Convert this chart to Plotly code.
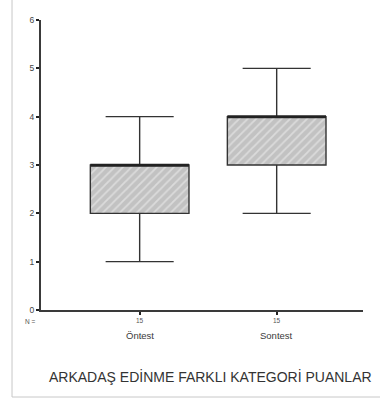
import plotly.graph_objects as go

# Box-plot summary statistics per test
categories = ["Öntest", "Sontest"]
n_counts = [15, 15]
q1 = [2, 3]
median = [3, 4]
q3 = [3, 4]
lower_whisker = [1, 2]
upper_whisker = [4, 5]

y_ticks = [0, 1, 2, 3, 4, 5, 6]
title_text = "ARKADAŞ EDİNME FARKLI KATEGORİ PUANLAR"

FONT = "Liberation Sans, Arial, sans-serif"
BOX_W = 0.72

fig = go.Figure()

# Hatched box bodies (Q1..Q3)
fig.add_trace(go.Bar(
    x=categories,
    y=[b - a for a, b in zip(q1, q3)],
    base=q1,
    width=BOX_W,
    marker=dict(
        color="#c2c2c2",
        line=dict(width=0),
        pattern=dict(shape="/", size=6, solidity=0.3,
                     bgcolor="#c2c2c2", fgcolor="#f4f4f4"),
    ),
    hoverinfo="skip",
    showlegend=False,
))

# Box outlines, whiskers and caps
fig.add_trace(go.Box(
    x=categories,
    q1=q1,
    median=median,
    q3=q3,
    lowerfence=lower_whisker,
    upperfence=upper_whisker,
    width=BOX_W,
    whiskerwidth=0.69,
    fillcolor="rgba(0,0,0,0)",
    line=dict(color="#333333", width=1.4),
    boxpoints=False,
    showlegend=False,
))

# Heavier median line
for i, c in enumerate(categories):
    fig.add_trace(go.Scatter(
        x=[i - BOX_W / 2, i + BOX_W / 2],
        y=[median[i], median[i]],
        xaxis="x2",
        mode="lines",
        line=dict(color="#222222", width=2.6),
        hoverinfo="skip",
        showlegend=False,
    ))

# Case counts and category labels under the axis
annotations = [
    dict(x=-0.01, y=-0.038, xref="paper", yref="paper", text="N =",
         showarrow=False, xanchor="right", yanchor="middle",
         font=dict(family=FONT, size=6.5, color="#555555")),
]
for c, n in zip(categories, n_counts):
    annotations.append(dict(x=c, y=-0.036, xref="x", yref="paper", text=str(n),
                            showarrow=False, yanchor="middle",
                            font=dict(family=FONT, size=6.5, color="#555555")))
    annotations.append(dict(x=c, y=-0.087, xref="x", yref="paper", text=c,
                            showarrow=False, yanchor="middle",
                            font=dict(family=FONT, size=9.5, color="#3a3a3a")))
annotations.append(dict(x=0.02, y=-0.23, xref="paper", yref="paper", text=title_text,
                        showarrow=False, xanchor="left", yanchor="middle",
                        font=dict(family=FONT, size=14, color="#333333")))

fig.update_layout(
    width=380,
    height=400,
    margin=dict(l=41, r=17, t=20, b=90),
    paper_bgcolor="white",
    plot_bgcolor="white",
    font=dict(family=FONT),
    bargap=0,
    xaxis=dict(
        type="category",
        range=[-0.72, 1.63],
        showgrid=False,
        zeroline=False,
        showline=True,
        linecolor="#3a3a3a",
        linewidth=2,
        ticks="outside",
        ticklen=3,
        tickwidth=1.5,
        tickcolor="#222222",
        showticklabels=False,
    ),
    xaxis2=dict(
        overlaying="x",
        range=[-0.72, 1.63],
        visible=False,
    ),
    yaxis=dict(
        range=[0, 6],
        tickvals=y_ticks,
        showgrid=False,
        zeroline=False,
        showline=True,
        linecolor="#3a3a3a",
        linewidth=2,
        ticks="outside",
        ticklen=3,
        tickwidth=1.5,
        tickcolor="#222222",
        tickfont=dict(family=FONT, size=8.5, color="#444444"),
    ),
    annotations=annotations,
    shapes=[
        dict(type="line", xref="paper", yref="paper",
             x0=-0.09, x1=-0.09, y0=1.08, y1=-0.3,
             line=dict(color="#c8c8c8", width=1)),
        dict(type="line", xref="paper", yref="paper",
             x0=-0.09, x1=1.06, y0=-0.3, y1=-0.3,
             line=dict(color="#c8c8c8", width=1)),
    ],
)

fig.write_html("out.html")
